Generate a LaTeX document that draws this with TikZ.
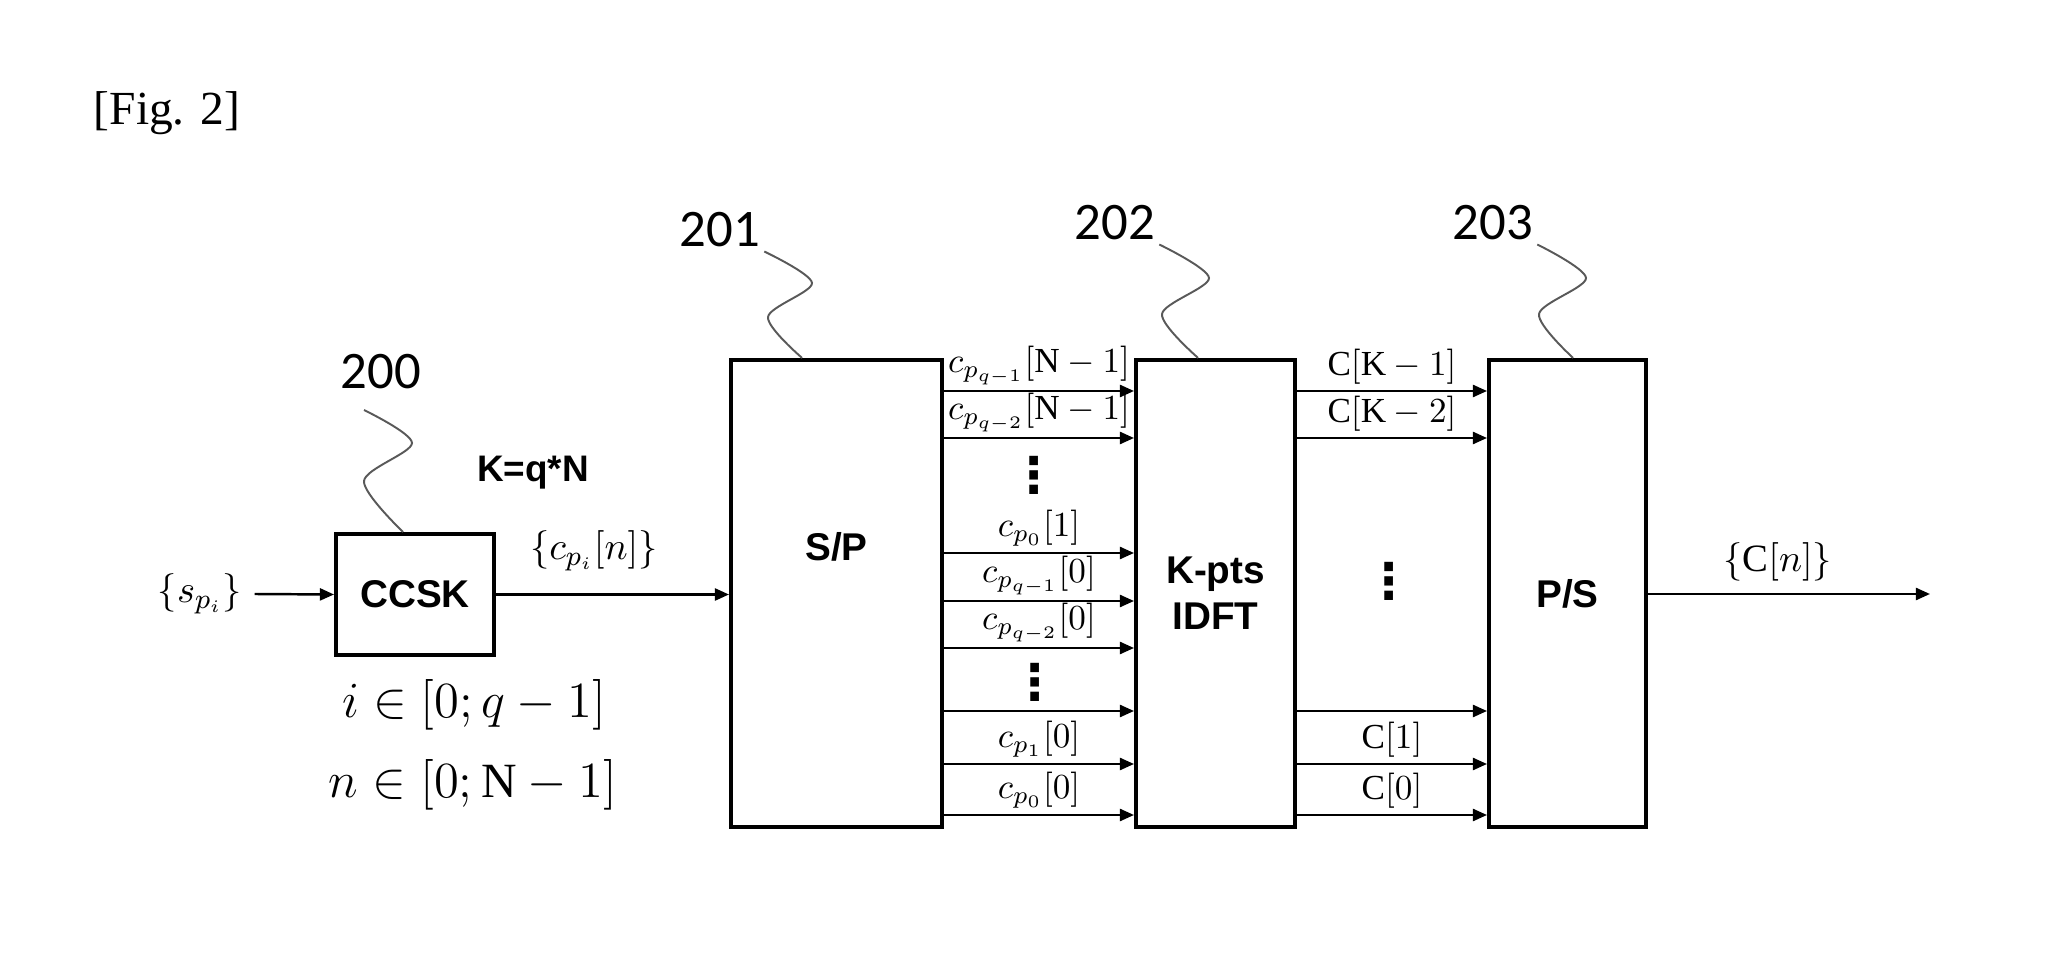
\documentclass[tikz,border=0pt]{standalone}
\usepackage{fontspec}
\setmainfont{Liberation Serif}
\newfontfamily\boxfont{Liberation Sans}
\newfontfamily\reffont{Carlito}
\newfontfamily\dotfont{DejaVu Sans}
\usetikzlibrary{positioning, arrows.meta}

\begin{document}
\begin{tikzpicture}[
  x=0.01cm, y=-0.01cm, >={Triangle[length=4pt, width=3.4pt]},
  box/.style={draw, line width=1.1pt, inner sep=0pt, align=center,
    font=\boxfont\bfseries\fontsize{11}{13}\selectfont},
  tall/.style={box, minimum height=4.67cm},
  boxtxt/.style={inner sep=0pt, font=\boxfont\bfseries\fontsize{11}{13}\selectfont},
  ref/.style={inner sep=1pt, font=\reffont\fontsize{15}{18}\selectfont},
  arr/.style={->, line width=0.7pt},
  lead/.style={draw=black!65, line width=0.55pt},
  sig/.style={above, inner sep=1.5pt, font=\fontsize{10}{12}\selectfont},
  mlbl/.style={font=\fontsize{11}{13}\selectfont},
  mbig/.style={inner sep=0pt, font=\fontsize{14}{16}\selectfont},
  vd/.style={inner sep=0pt, font=\dotfont\bfseries\fontsize{14}{14}\selectfont}
]
\useasboundingbox (0,0) rectangle (2051,961);

% title
\node[font=\fontsize{13.5}{16}\selectfont] (fig) at (167,113) {[Fig. 2]};

% blocks
\node[box, minimum width=1.58cm, minimum height=1.21cm] (ccsk) at (415,594.5) {CCSK};
\node[tall, minimum width=2.11cm] (sp) at (836.5,593.5) {};
\node[boxtxt] (sptxt) at (836.5,547) {S/P};
\node[tall, minimum width=1.59cm] (idft) at (1215.5,593.5) {K-pts\\IDFT};
\node[tall, minimum width=1.57cm] (ps) at (1567.5,593.5) {P/S};

% reference numerals
\node[ref] (n200) at (381,371.5) {200};
\node[ref] (n201) at (720,230) {201};
\node[ref] (n202) at (1115,223) {202};
\node[ref] (n203) at (1493,223) {203};
\draw[lead] plot[smooth] coordinates {([xshift=-0.17cm, yshift=-0.17cm]n200.south) (412,443) (364,481) ([xshift=0.69cm]ccsk.north west)};
\draw[lead] plot[smooth] coordinates {(n201.south east) (812,283) (768,317) ([xshift=0.73cm]sp.north west)};
\draw[lead] plot[smooth] coordinates {(n202.south east) (1209,278) (1162,314) ([xshift=0.64cm]idft.north west)};
\draw[lead] plot[smooth] coordinates {(n203.south east) (1586,278) (1539,314) ([xshift=0.86cm]ps.north west)};

% input side
\node[mlbl] (sin) at (200,594) {$\{s_{p_i}\}$};
\draw[arr] (sin.east) -- (ccsk.west);
\node[boxtxt, font=\boxfont\bfseries\fontsize{10.5}{12}\selectfont] (kqn) at (533,473) {K=q*N};
\draw[arr] (ccsk.east) -- node[mlbl, above=3pt, pos=0.42] (cpin) {$\{c_{p_i}[n]\}$} (ccsk.east -| sp.west);
\node[mbig] (irange) at (474,705) {$i\in[0;q-1]$};
\node[mbig] (nrange) at (473,785) {$n\in[0;\mathrm{N}-1]$};

% rows
\coordinate (r1) at (0,391);
\coordinate (r2) at (0,438);
\coordinate (r3) at (0,553);
\coordinate (r4) at (0,601);
\coordinate (r5) at (0,648);
\coordinate (r6) at (0,711);
\coordinate (r7) at (0,764);
\coordinate (r8) at (0,815);

% S/P to IDFT
\draw[arr] (sp.east |- r1) -- node[sig] (l1) {$c_{p_{q-1}}[\mathrm{N}-1]$} (idft.west |- r1);
\draw[arr] (sp.east |- r2) -- node[sig] (l2) {$c_{p_{q-2}}[\mathrm{N}-1]$} (idft.west |- r2);
\node[vd] (dl1) at (1034,475) {⋮};
\draw[arr] (sp.east |- r3) -- node[sig] (l3) {$c_{p_0}[1]$} (idft.west |- r3);
\draw[arr] (sp.east |- r4) -- node[sig] (l4) {$c_{p_{q-1}}[0]$} (idft.west |- r4);
\draw[arr] (sp.east |- r5) -- node[sig] (l5) {$c_{p_{q-2}}[0]$} (idft.west |- r5);
\node[vd] (dl2) at (1035,682) {⋮};
\draw[arr] (sp.east |- r6) -- (idft.west |- r6);
\draw[arr] (sp.east |- r7) -- node[sig] (l7) {$c_{p_1}[0]$} (idft.west |- r7);
\draw[arr] (sp.east |- r8) -- node[sig] (l8) {$c_{p_0}[0]$} (idft.west |- r8);

% IDFT to P/S
\draw[arr] (idft.east |- r1) -- node[sig] (k1) {$\mathrm{C}[\mathrm{K}-1]$} (ps.west |- r1);
\draw[arr] (idft.east |- r2) -- node[sig] (k2) {$\mathrm{C}[\mathrm{K}-2]$} (ps.west |- r2);
\node[vd] (dr) at (1389,581) {⋮};
\draw[arr] (idft.east |- r6) -- (ps.west |- r6);
\draw[arr] (idft.east |- r7) -- node[sig] (k7) {$\mathrm{C}[1]$} (ps.west |- r7);
\draw[arr] (idft.east |- r8) -- node[sig] (k8) {$\mathrm{C}[0]$} (ps.west |- r8);

% output
\coordinate (cout) at (1930,594);
\draw[arr] (ps.east |- cout) -- node[mlbl, above, pos=0.46] (cn) {$\{\mathrm{C}[n]\}$} (cout);
\end{tikzpicture}
\end{document}
